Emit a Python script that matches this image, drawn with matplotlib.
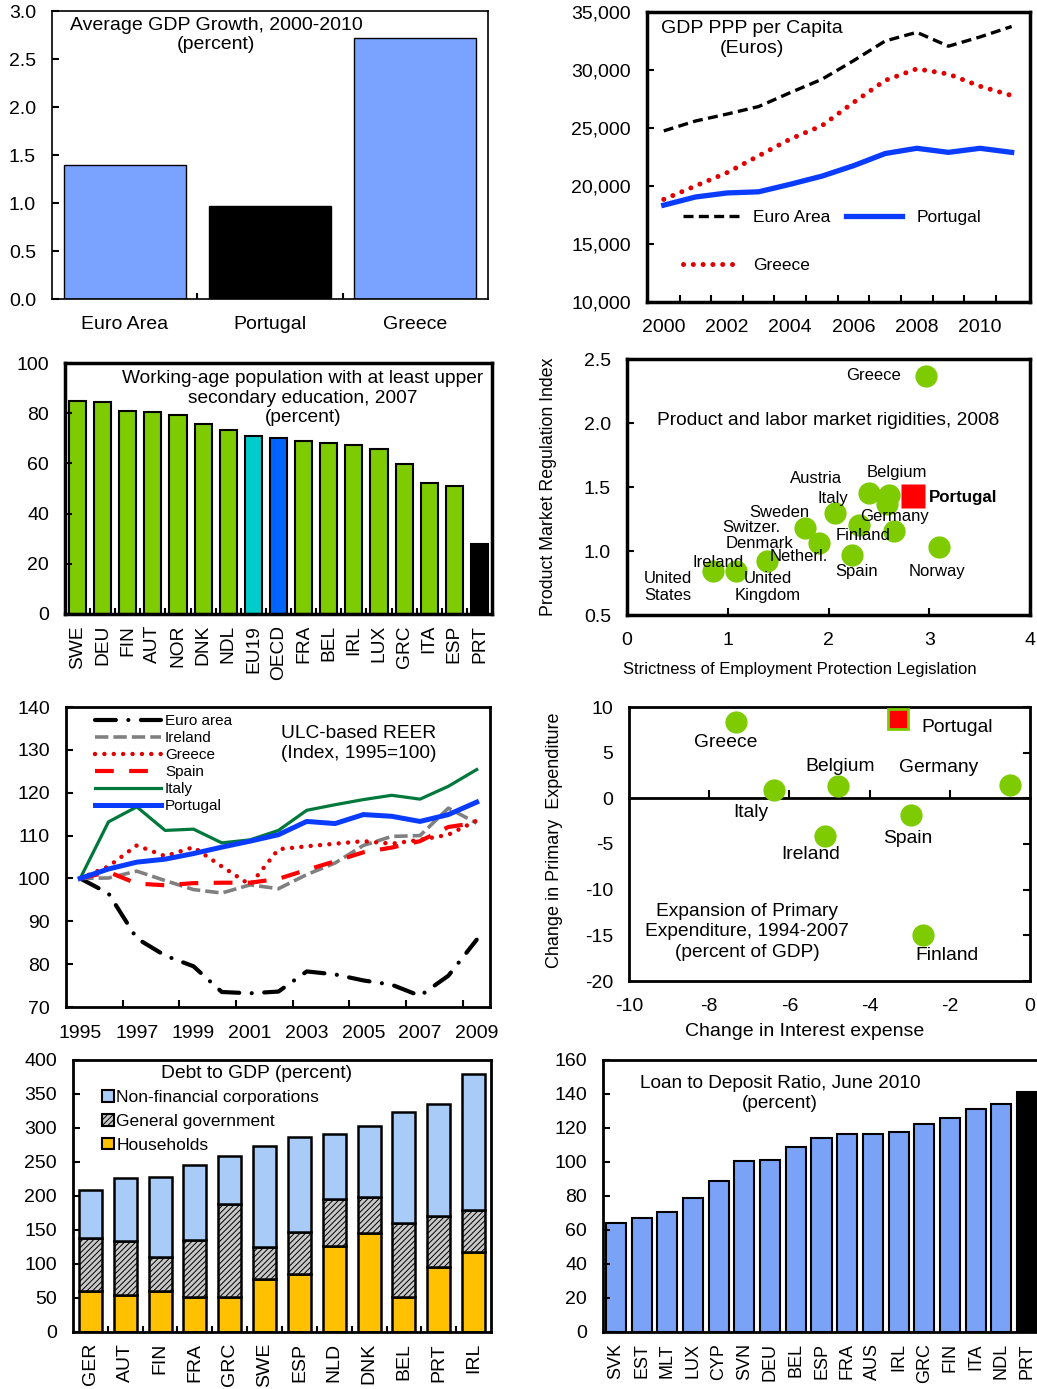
import matplotlib
matplotlib.use("Agg")
import matplotlib.pyplot as plt
import matplotlib.ticker as ticker
from matplotlib.patches import Patch

plt.rcParams.update({
    "font.family": ["Liberation Sans", "DejaVu Sans"],
    "font.size": 14,
    "hatch.linewidth": 0.7,
    "axes.linewidth": 2,
    "axes.unicode_minus": False,
})

W, H = 1037, 1389

# ---- data ----
gdp_labels = ["Euro Area", "Portugal", "Greece"]
gdp_growth = [1.40, 0.97, 2.72]

ppp_years = list(range(2000, 2012))
ppp_euro = [24750, 25600, 26200, 26850, 28050, 29200, 30800, 32500, 33250, 32050, 32850, 33750]
ppp_greece = [18850, 20000, 21150, 22600, 24050, 25200, 27200, 29100, 30100, 29650, 28600, 27800]
ppp_portugal = [18350, 19050, 19400, 19500, 20150, 20850, 21750, 22800, 23250, 22900, 23250, 22900]

edu_labels = ["SWE", "DEU", "FIN", "AUT", "NOR", "DNK", "NDL", "EU19", "OECD",
              "FRA", "BEL", "IRL", "LUX", "GRC", "ITA", "ESP", "PRT"]
edu_values = [84.9, 84.5, 80.7, 80.4, 79.1, 75.6, 73.4, 71.1, 70.3,
              69.0, 68.2, 67.5, 65.8, 59.7, 52.3, 51.0, 27.8]

# employment protection (x) vs product market regulation (y)
rig_epl = [0.85, 1.08, 1.39, 1.77, 1.91, 2.06, 2.30, 2.23, 2.40, 2.60, 2.58, 2.65, 3.10, 2.97]
rig_pmr = [0.84, 0.84, 0.92, 1.18, 1.06, 1.30, 1.20, 0.97, 1.45, 1.44, 1.37, 1.16, 1.03, 2.37]
rig_prt = (2.84, 1.43)
rig_names = ["Greece", "Belgium", "Austria", "Italy", "Sweden", "Switzer.", "Denmark",
             "Netherl.", "Ireland", "United\nStates", "United\nKingdom", "Germany",
             "Finland", "Spain", "Norway"]
rig_name_pos = [(2.45, 2.37), (2.68, 1.61), (1.88, 1.57), (2.04, 1.41), (1.51, 1.30),
                (1.23, 1.18), (1.32, 1.055), (1.70, 0.96), (0.90, 0.91), (0.41, 0.72),
                (1.40, 0.72), (2.66, 1.27), (2.34, 1.125), (2.28, 0.84), (3.08, 0.84)]

reer_years = list(range(1995, 2010))
reer = {
    "Euro area": [100, 96.5, 86.0, 82.0, 79.5, 73.5, 73.2, 73.6, 78.3, 77.6, 76.2, 75.2, 72.6, 77.3, 85.7],
    "Ireland": [100, 100.1, 101.7, 99.5, 97.4, 96.6, 98.5, 97.6, 100.9, 103.6, 107.7, 109.8, 110.0, 116.4, 112.9],
    "Greece": [100, 102.8, 107.7, 105.2, 107.3, 102.8, 98.5, 106.8, 107.5, 108.1, 108.7, 108.1, 109.0, 110.2, 113.5],
    "Spain": [100, 101.5, 98.8, 98.4, 98.9, 99.0, 99.0, 99.9, 102.0, 104.0, 106.1, 107.2, 108.7, 112.0, 113.0],
    "Italy": [100, 113.2, 116.7, 111.2, 111.5, 108.3, 109.0, 111.2, 115.9, 117.2, 118.4, 119.4, 118.5, 121.5, 125.4],
    "Portugal": [100, 102.2, 103.8, 104.5, 105.8, 107.3, 108.7, 110.2, 113.3, 112.8, 114.9, 114.5, 113.3, 114.9, 117.8],
}

pe_names = ["Greece", "Italy", "Belgium", "Germany", "Spain", "Ireland", "Finland"]
pe_interest = [-7.34, -6.38, -4.78, -0.50, -2.97, -5.11, -2.66]
pe_primary = [8.39, 0.87, 1.30, 1.49, -1.87, -4.10, -14.99]
pe_prt = (-3.28, 8.72)
pe_name_pos = [(-7.58, 6.06), (-6.96, -1.6), (-4.74, 3.54), (-2.27, 3.43),
               (-3.04, -4.45), (-5.46, -6.2), (-2.07, -17.2)]

debt_labels = ["GER", "AUT", "FIN", "FRA", "GRC", "SWE", "ESP", "NLD", "DNK", "BEL", "PRT", "IRL"]
debt_hh = [61, 55, 60, 52, 51, 78, 85, 127, 146, 52, 95, 117]
debt_gov = [77, 79, 50, 84, 137, 47, 62, 69, 52, 109, 76, 63]
debt_nfc = [71, 93, 118, 109, 71, 148, 140, 95, 105, 163, 165, 200]

ltd_labels = ["SVK", "EST", "MLT", "LUX", "CYP", "SVN", "DEU", "BEL", "ESP",
              "FRA", "AUS", "IRL", "GRC", "FIN", "ITA", "NDL", "PRT"]
ltd_values = [64.0, 66.8, 70.5, 78.7, 88.9, 100.3, 101.3, 109.1, 114.4,
              116.3, 116.5, 117.5, 122.2, 125.7, 131.0, 134.0, 141.4]

GREEN = "#7DCB00"
LBLUE = "#7AA3FF"

fig = plt.figure(figsize=(W / 100, H / 100), dpi=100)


def add_ax(l, t, r, b, lw=2):
    ax = fig.add_axes([l / W, 1 - b / H, (r - l) / W, (b - t) / H])
    for s in ax.spines.values():
        s.set_linewidth(lw)
    ax.tick_params(direction="in", length=5, width=1.5, labelsize=14)
    ax.tick_params(axis="y", pad=11.5)
    ax.tick_params(axis="x", pad=12)
    return ax


def category_ticks(ax, labels, rotate=False, size=14):
    n = len(labels)
    ax.set_xticks(range(n))
    ax.set_xticklabels(labels, rotation=90 if rotate else 0, fontsize=size)
    ax.set_xticks([i + 0.5 for i in range(n - 1)], minor=True)
    ax.tick_params(axis="x", which="major", length=0, pad=8 if rotate else 12)
    ax.tick_params(axis="x", which="minor", direction="in", length=4, width=1.5)
    ax.set_xlim(-0.5, n - 0.5)


# ---- 1. average GDP growth ----
ax = add_ax(52, 11, 488, 299, lw=1.2)
ax.bar(range(3), gdp_growth, width=0.84, color=[LBLUE, "black", LBLUE],
       edgecolor="black", linewidth=1)
category_ticks(ax, gdp_labels)
ax.set_ylim(0, 3)
ax.set_yticks([0, 0.5, 1, 1.5, 2, 2.5, 3])
ax.yaxis.set_major_formatter(ticker.FormatStrFormatter("%.1f"))
ax.text(0.376, 0.98, "Average GDP Growth, 2000-2010\n(percent)", transform=ax.transAxes,
        ha="center", va="top", fontsize=14)

# ---- 2. GDP PPP per capita ----
ax = add_ax(647, 12, 1030, 302, lw=2.5)
ax.plot(ppp_years, ppp_euro, color="black", lw=2.4, ls=(0, (3, 1.6)), label="Euro Area")
ax.plot(ppp_years, ppp_greece, color="#E00000", lw=3.6, ls=(0, (0.01, 1.95)),
        dash_capstyle="round", label="Greece")
ax.plot(ppp_years, ppp_portugal, color="#0A3CFF", lw=3.8, label="Portugal")
ax.set_xlim(1999.47, 2011.58)
ax.set_ylim(10000, 35000)
ax.set_xticks(range(2000, 2011, 2))
ax.set_xticks([y + 0.5 for y in range(2000, 2011)], minor=True)
ax.tick_params(axis="x", which="major", length=0, pad=12)
ax.tick_params(axis="x", which="minor", direction="in", length=5, width=1.5)
ax.yaxis.set_major_formatter(ticker.FuncFormatter(lambda v, p: f"{v:,.0f}"))
ax.legend(loc="upper left", bbox_to_anchor=(0.094, 0.317), ncol=2, frameon=False,
          fontsize=12.5, handlelength=3.2, handletextpad=0.85, columnspacing=0.9,
          labelspacing=1.9, borderpad=0, borderaxespad=0)
ax.text(0.274, 0.972, "GDP PPP per Capita\n(Euros)", transform=ax.transAxes,
        ha="center", va="top", fontsize=14)

# ---- 3. education ----
ax = add_ax(65, 363, 492, 614, lw=2.5)
edu_colors = [GREEN] * len(edu_labels)
edu_colors[edu_labels.index("EU19")] = "#00CCCC"
edu_colors[edu_labels.index("OECD")] = "#0064FF"
edu_colors[edu_labels.index("PRT")] = "black"
ax.bar(range(len(edu_values)), edu_values, width=0.68, color=edu_colors,
       edgecolor="black", linewidth=1.5)
category_ticks(ax, edu_labels, rotate=True, size=13.8)
ax.set_ylim(0, 100)
ax.set_yticks(range(0, 101, 20))
ax.text(0.557, 0.972, "Working-age population with at least upper\nsecondary education, 2007\n(percent)",
        transform=ax.transAxes, ha="center", va="top", fontsize=13.8)

# ---- 4. product and labour market rigidities ----
ax = add_ax(627, 359, 1030, 615, lw=2.5)
ax.plot(rig_epl, rig_pmr, "o", ms=16, color=GREEN, mec="none", zorder=2)
ax.plot([rig_prt[0]], [rig_prt[1]], "s", ms=17, color="#FF0000", mec="none", zorder=2)
for name, (tx, ty) in zip(rig_names, rig_name_pos):
    ax.text(tx, ty, name, ha="center", va="center", fontsize=12, zorder=3)
ax.text(3.34, 1.42, "Portugal", ha="center", va="center", fontsize=12.2,
        fontweight="bold", zorder=3)
ax.set_xlim(0, 4)
ax.set_ylim(0.5, 2.5)
ax.set_xticks(range(5))
ax.set_yticks([0.5, 1.0, 1.5, 2.0, 2.5])
ax.yaxis.set_major_formatter(ticker.FormatStrFormatter("%.1f"))
ax.tick_params(axis="x", pad=12)
ax.text(0.5, 0.76, "Product and labor market rigidities, 2008", transform=ax.transAxes,
        ha="center", va="center", fontsize=13.8)
ax.text(-0.196, 0.5, "Product Market Regulation Index", transform=ax.transAxes,
        rotation=90, ha="center", va="center", fontsize=12.8)
ax.text(0.43, -0.211, "Strictness of Employment Protection Legislation", transform=ax.transAxes,
        ha="center", va="center", fontsize=12)

# ---- 5. ULC-based REER ----
ax = add_ax(66, 707, 490, 1007, lw=2)
styles = {
    "Euro area": dict(color="black", lw=3.0, ls=(0, (5, 3, 0.01, 3)), dash_capstyle="round"),
    "Ireland": dict(color="#808080", lw=2.6, ls=(0, (3.7, 1.4))),
    "Greece": dict(color="#E00000", lw=3.2, ls=(0, (0.01, 2.1)), dash_capstyle="round"),
    "Spain": dict(color="#FF0000", lw=3.0, ls=(0, (4.5, 3.7))),
    "Italy": dict(color="#00783C", lw=2.3),
    "Portugal": dict(color="#0A3CFF", lw=3.6),
}
for name, vals in reer.items():
    ax.plot(reer_years, vals, label=name, **styles[name])
ax.set_xlim(1994.5, 2009.47)
ax.set_ylim(70, 140)
ax.set_xticks(range(1995, 2010, 2))
ax.set_xticks([y + 1.5 for y in range(1995, 2008, 2)], minor=True)
ax.tick_params(axis="x", which="major", length=0, pad=13)
ax.tick_params(axis="x", which="minor", direction="in", length=5, width=1.5)
ax.legend(loc="upper left", bbox_to_anchor=(0.068, 0.977), frameon=False, fontsize=11,
          handlelength=4.3, handletextpad=0.3, labelspacing=0.2, borderpad=0,
          borderaxespad=0)
ax.text(0.691, 0.94, "ULC-based REER\n(Index, 1995=100)", transform=ax.transAxes,
        ha="center", va="top", fontsize=13.8)

# ---- 6. primary expenditure ----
ax = add_ax(629, 707, 1030, 981, lw=2)
ax.plot(pe_interest, pe_primary, "o", ms=16, color=GREEN, mec="none", zorder=3)
ax.plot([pe_prt[0]], [pe_prt[1]], "s", ms=14, color="#FF0000", mec=GREEN, mew=2, zorder=3)
for name, (tx, ty) in zip(pe_names, pe_name_pos):
    ax.text(tx, ty, name, ha="center", va="center", fontsize=13.9)
ax.text(-1.82, 7.8, "Portugal", ha="center", va="center", fontsize=13.9)
ax.set_xlim(-10, 0)
ax.set_ylim(-20, 10)
ax.set_xticks(range(-10, 1, 2))
ax.set_yticks(range(-20, 11, 5))
ax.tick_params(axis="x", length=0, pad=12)
ax.tick_params(axis="y", left=False, right=True, labelleft=True, labelright=False,
               direction="in", length=5)
zero = ax.secondary_xaxis(2 / 3)
zero.set_xticks([-8, -6, -4, -2])
zero.tick_params(direction="out", length=6, width=1.5, labeltop=False, labelbottom=False)
for s in zero.spines.values():
    s.set_linewidth(2)
ax.text(0.294, 0.179, "Expansion of Primary\nExpenditure, 1994-2007\n(percent of GDP)",
        transform=ax.transAxes, ha="center", va="center", fontsize=13.8, linespacing=1.3)
ax.text(-0.185, 0.515, "Change in Primary  Expenditure", transform=ax.transAxes,
        rotation=90, ha="center", va="center", fontsize=13)
ax.text(0.438, -0.186, "Change in Interest expense", transform=ax.transAxes,
        ha="center", va="center", fontsize=14)

# ---- 7. debt to GDP ----
ax = add_ax(73, 1060, 491, 1332, lw=2)
x = range(len(debt_labels))
gov_bottom = debt_hh
nfc_bottom = [h + g for h, g in zip(debt_hh, debt_gov)]
ax.bar(x, debt_hh, width=0.66, color="#FFC000", edgecolor="black", linewidth=1.8)
ax.bar(x, debt_gov, bottom=gov_bottom, width=0.66, color="#C8C8C8", hatch="//////",
       edgecolor="black", linewidth=1.8)
ax.bar(x, debt_nfc, bottom=nfc_bottom, width=0.66, color="#A8CBF7",
       edgecolor="black", linewidth=1.8)
category_ticks(ax, debt_labels, rotate=True, size=14)
ax.set_ylim(0, 400)
ax.set_yticks(range(0, 401, 50))
handles = [Patch(facecolor="#A8CBF7", edgecolor="black", lw=1.5),
           Patch(facecolor="#C8C8C8", edgecolor="black", hatch="//////", lw=1.5),
           Patch(facecolor="#FFC000", edgecolor="black", lw=1.5)]
ax.legend(handles, ["Non-financial corporations", "General government", "Households"],
          loc="upper left", bbox_to_anchor=(0.07, 0.889), frameon=False, fontsize=12.5,
          handlelength=0.65, handleheight=0.65, handletextpad=0.15, labelspacing=0.5,
          borderpad=0, borderaxespad=0)
ax.text(0.44, 0.949, "Debt to GDP (percent)", transform=ax.transAxes,
        ha="center", va="center", fontsize=13.9)

# ---- 8. loan to deposit ----
ax = add_ax(603, 1060, 1040, 1332, lw=2)
ltd_colors = ["#7AA3F7"] * (len(ltd_values) - 1) + ["black"]
ax.bar(range(len(ltd_values)), ltd_values, width=0.78, color=ltd_colors,
       edgecolor="black", linewidth=1.5)
ax.set_xticks(range(len(ltd_labels)))
ax.set_xticklabels(ltd_labels, rotation=90, fontsize=13)
ax.tick_params(axis="x", length=0, pad=8)
ax.set_xlim(-0.5, len(ltd_labels) - 0.5)
ax.set_ylim(0, 160)
ax.set_yticks(range(0, 161, 20))
ax.text(0.405, 0.945, "Loan to Deposit Ratio, June 2010\n(percent)", transform=ax.transAxes,
        ha="center", va="top", fontsize=13.7)

fig.savefig("out.png", dpi=100)
